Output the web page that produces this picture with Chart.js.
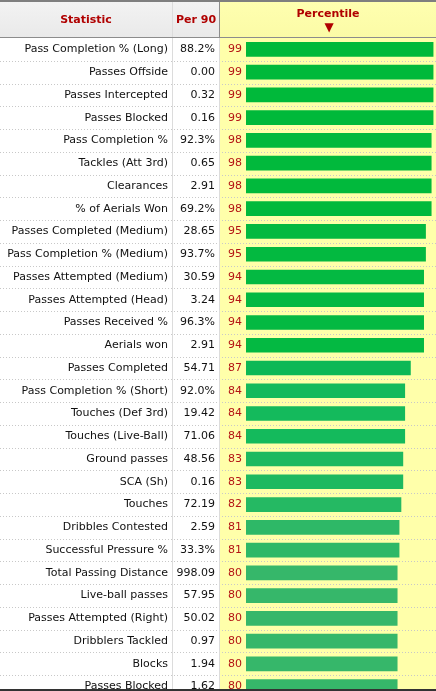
<!DOCTYPE html>
<html>
<head>
<meta charset="utf-8">
<script src="https://cdn.jsdelivr.net/npm/chart.js@4"></script>
<style>
  html, body { margin: 0; padding: 0; background: #fff; overflow: hidden; }
  #wrap { position: relative; width: 436px; height: 691px; overflow: hidden; }
  #edge { position: absolute; left: 0; right: 0; bottom: 0; height: 2px; background: #333; }
</style>
</head>
<body>
<div id="wrap">
  <canvas id="tbl" width="436" height="698"></canvas>
  <div id="edge"></div>
</div>
<script>
// Statistici (randuri), valori per 90 si percentile
const stats = [
    'Pass Completion % (Long)', 'Passes Offside', 'Passes Intercepted', 'Passes Blocked',
    'Pass Completion %', 'Tackles (Att 3rd)', 'Clearances', '% of Aerials Won',
    'Passes Completed (Medium)', 'Pass Completion % (Medium)', 'Passes Attempted (Medium)',
    'Passes Attempted (Head)', 'Passes Received %', 'Aerials won', 'Passes Completed',
    'Pass Completion % (Short)', 'Touches (Def 3rd)', 'Touches (Live-Ball)', 'Ground passes',
    'SCA (Sh)', 'Touches', 'Dribbles Contested', 'Successful Pressure %',
    'Total Passing Distance', 'Live-ball passes', 'Passes Attempted (Right)',
    'Dribblers Tackled', 'Blocks', 'Passes Blocked',
];
const per90 = [
    '88.2%', '0.00', '0.32', '0.16', '92.3%', '0.65', '2.91', '69.2%', '28.65', '93.7%',
    '30.59', '3.24', '96.3%', '2.91', '54.71', '92.0%', '19.42', '71.06', '48.56', '0.16',
    '72.19', '2.59', '33.3%', '998.09', '57.95', '50.02', '0.97', '1.94', '1.62',
];
const percentile = [
    99, 99, 99, 99, 98, 98, 98, 98, 95, 95, 94, 94, 94, 94, 87,
    84, 84, 84, 83, 83, 82, 81, 81, 80, 80, 80, 80, 80, 80,
];

// Culoarea barei in functie de percentila (verde mai aprins sus)
function pctColor(p) {
    const stops = [[80, [54, 183, 106]], [84, [20, 186, 92]], [87, [13, 184, 86]], [94, [4, 185, 66]], [99, [0, 185, 58]]];
    if (p <= stops[0][0]) return `rgb(${stops[0][1].join(',')})`;
    for (let i = 1; i < stops.length; i++) {
        if (p <= stops[i][0]) {
            const [p0, c0] = stops[i - 1], [p1, c1] = stops[i];
            const t = (p - p0) / (p1 - p0);
            const c = c0.map((v, k) => Math.round(v + (c1[k] - v) * t));
            return `rgb(${c.join(',')})`;
        }
    }
    return `rgb(${stops[stops.length - 1][1].join(',')})`;
}

const FONT = '"DejaVu Sans", Verdana, sans-serif';
const COL_STAT = 172, COL_P90 = 219, HEAD_H = 38;

// Fundal + grila tabelului
const tableBg = {
    id: 'tableBg',
    beforeDraw(chart) {
        const { ctx, width, height } = chart;
        const y = chart.scales.y;
        ctx.save();
        ctx.fillStyle = '#fff';
        ctx.fillRect(0, 0, width, height);
        // coloana percentile (galben)
        ctx.fillStyle = '#ffffaa';
        ctx.fillRect(COL_P90, 0, width - COL_P90, height);
        // header
        let g = ctx.createLinearGradient(0, 0, 0, HEAD_H);
        g.addColorStop(0, '#f3f3f3');
        g.addColorStop(1, '#e9e9e9');
        ctx.fillStyle = g;
        ctx.fillRect(0, 0, COL_P90, HEAD_H);
        g = ctx.createLinearGradient(0, 0, 0, HEAD_H);
        g.addColorStop(0, '#ffffb0');
        g.addColorStop(1, '#fbfba6');
        ctx.fillStyle = g;
        ctx.fillRect(COL_P90, 0, width - COL_P90, HEAD_H);

        // separatoare randuri (punctate)
        ctx.strokeStyle = '#c8c8c8';
        ctx.lineWidth = 1;
        ctx.setLineDash([1, 2]);
        for (let i = 0; i < stats.length; i++) {
            const yy = Math.round(y.getPixelForValue(i) + 22.75 / 2) + 0.5;
            ctx.beginPath();
            ctx.moveTo(0, yy);
            ctx.lineTo(width, yy);
            ctx.stroke();
        }
        ctx.setLineDash([]);

        // verticale
        ctx.strokeStyle = '#dcdcdc';
        ctx.beginPath();
        ctx.moveTo(COL_STAT + 0.5, 0); ctx.lineTo(COL_STAT + 0.5, height);
        ctx.moveTo(COL_P90 + 0.5, HEAD_H); ctx.lineTo(COL_P90 + 0.5, height);
        ctx.stroke();
        ctx.strokeStyle = '#8c8c8c';
        ctx.beginPath();
        ctx.moveTo(COL_P90 + 0.5, 0); ctx.lineTo(COL_P90 + 0.5, HEAD_H);
        ctx.stroke();

        // linie sus + sub header
        ctx.fillStyle = '#7f7f7f';
        ctx.fillRect(0, 0, width, 2);
        ctx.fillStyle = '#8c8c8c';
        ctx.fillRect(0, HEAD_H - 1, width, 1);
        ctx.restore();
    },
};

// Textele: header, statistici, per 90, percentile
const tableText = {
    id: 'tableText',
    afterDatasetsDraw(chart) {
        const { ctx } = chart;
        const y = chart.scales.y;
        ctx.save();
        ctx.textBaseline = 'middle';
        ctx.fillStyle = '#b00000';
        ctx.font = `bold 11px ${FONT}`;
        ctx.textAlign = 'center';
        ctx.fillText('Statistic', 86, 20);
        ctx.fillText('Per 90', 196, 20);
        ctx.fillText('Percentile', 328, 14);
        ctx.font = `12px ${FONT}`;
        ctx.fillText('\u25BC', 329, 28);

        ctx.font = `11px ${FONT}`;
        stats.forEach((s, i) => {
            const yy = y.getPixelForValue(i);
            ctx.fillStyle = '#111';
            ctx.textAlign = 'right';
            ctx.fillText(s, 168, yy);
            ctx.fillText(per90[i], 215, yy);
            ctx.fillStyle = '#b41414';
            ctx.textAlign = 'left';
            ctx.fillText(String(percentile[i]), 228, yy);
        });
        ctx.restore();
    },
};

new Chart(document.getElementById('tbl'), {
    type: 'bar',
    data: {
        labels: stats,
        datasets: [{
            data: percentile,
            backgroundColor: percentile.map(pctColor),
            borderWidth: 0,
            barThickness: 14,
        }],
    },
    options: {
        indexAxis: 'y',
        responsive: false,
        animation: false,
        layout: { padding: { left: 246, right: 1, top: HEAD_H, bottom: 0 } },
        plugins: { legend: { display: false }, tooltip: { enabled: false } },
        scales: {
            x: { display: false, min: 0, max: 100 },
            y: { display: false, grid: { display: false } },
        },
    },
    plugins: [tableBg, tableText],
});
</script>
</body>
</html>
